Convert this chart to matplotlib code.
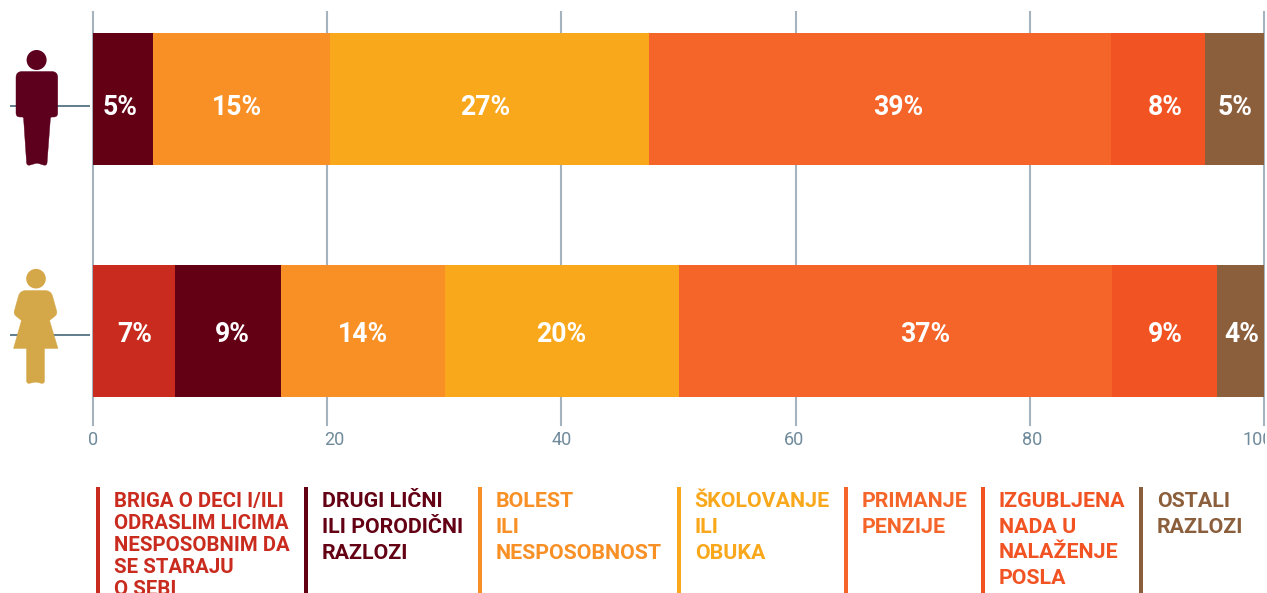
import matplotlib
matplotlib.use("Agg")
import matplotlib.pyplot as plt
import numpy as np
from matplotlib.patches import Circle, PathPatch, Rectangle
from matplotlib.path import Path
from matplotlib.transforms import Bbox, ScaledTranslation

plt.rcParams['font.family'] = ['Roboto', 'DejaVu Sans']

W, H = 1267, 593
groups = ['Muškarci', 'Žene']
legend_labels = [
    "BRIGA O DECI I/ILI\nODRASLIM LICIMA\nNESPOSOBNIM DA\nSE STARAJU\nO SEBI",
    "DRUGI LIČNI\nILI PORODIČNI\nRAZLOZI",
    "BOLEST\nILI\nNESPOSOBNOST",
    "ŠKOLOVANJE\nILI\nOBUKA",
    "PRIMANJE\nPENZIJE",
    "IZGUBLJENA\nNADA U\nNALAŽENJE\nPOSLA",
    "OSTALI\nRAZLOZI",
]
colors = ['#C92C1E', '#640014', '#F89026', '#F9A81C', '#F56529', '#F15323', '#8B5E3C']

men_widths = [0, 5.15, 15.1, 27.2, 39.45, 8.05, 5.05]
women_widths = [7, 9.05, 14, 20, 36.95, 9, 4]
men_labels = ['', '5%', '15%', '27%', '39%', '8%', '5%']
women_labels = ['7%', '9%', '14%', '20%', '37%', '9%', '4%']
# nudges of the value labels, in pixels
men_nudge = [0, -3, -5, -4, 19, 7, 1]
women_nudge = [1, 4, 0, -1, 30, 1, 1]
row_nudge = [-5.3, -0.5]
ticks = [0, 20, 40, 60, 80, 100]
tick_nudge = [0, 7.5, 0, -1.5, 2, -6]

legend_x = [96, 304, 478, 677, 844, 981, 1139]
legend_spacing = [22, 26, 26, 26, 26, 25.7, 26]
legend_size = [14.7, 15.4, 15.4, 15.4, 15.4, 15.4, 15.4]


def rounded(points):
    """Closed outline from (x, y, corner radius) vertices."""
    pts = np.array([p[:2] for p in points], float)
    verts, codes = [], []
    n = len(pts)
    for i in range(n):
        p, prev, nxt = pts[i], pts[i - 1], pts[(i + 1) % n]
        r = points[i][2]
        a = p + (prev - p) / np.linalg.norm(prev - p) * r
        b = p + (nxt - p) / np.linalg.norm(nxt - p) * r
        verts.append(a)
        codes.append(Path.MOVETO if i == 0 else Path.LINETO)
        verts += [p, b]
        codes += [Path.CURVE3, Path.CURVE3]
    verts.append(verts[0])
    codes.append(Path.CLOSEPOLY)
    return Path(verts, codes)


fig = plt.figure(figsize=(W / 100, H / 100), dpi=100)
ax = fig.add_axes([93 / W, 1 - 425 / H, (1264 - 93) / W, (425 - 12) / H])
ax.set_xlim(0, 100)
ax.set_ylim(1.405, -0.375)
for s in ax.spines.values():
    s.set_visible(False)
ax.set_yticks([])
ax.set_xticks(ticks)
ax.tick_params(axis='x', length=0, pad=4.5, labelsize=13, labelcolor='#6F8A9B')
ax.xaxis.grid(True, color='#A5B3BE', lw=1.5, zorder=0, clip_on=False)
ax.set_axisbelow(True)
for lab, n in zip(ax.get_xticklabels(), tick_nudge):
    lab.set_transform(lab.get_transform() + ScaledTranslation(n / 100, 0, fig.dpi_scale_trans))
    lab.set_clip_box(Bbox([[0, 0], [1265, H]]))
    lab.set_clip_on(True)

for row, (vals, labs, nudges) in enumerate([(men_widths, men_labels, men_nudge),
                                            (women_widths, women_labels, women_nudge)]):
    left = 0
    for v, lab, n, c in zip(vals, labs, nudges, colors):
        if v:
            ax.barh(row, v, left=left, height=132 / 232, color=c, linewidth=0, zorder=3)
            ax.annotate(lab, (left + v / 2, row), xytext=(n * 0.72, row_nudge[row] * 0.72),
                        textcoords='offset points', ha='center', va='center_baseline',
                        color='white', fontsize=19.2, fontweight='bold', zorder=4)
        left += v

# pixel-space overlay for icons, stubs and the legend
ov = fig.add_axes([0, 0, 1, 1], facecolor='none')
ov.set_xlim(0, W)
ov.set_ylim(H, 0)
ov.axis('off')

ov.plot([10, 90], [106, 106], color='#607D8B', lw=1.4, zorder=1, solid_capstyle='butt')
ov.plot([10, 90], [334.7, 334.7], color='#607D8B', lw=1.4, zorder=1, solid_capstyle='butt')

man = '#5C001E'
ov.add_patch(Circle((36.6, 60), 10, color=man, lw=0, zorder=2))
man_pts = [(16, 71.5, 6), (57.7, 71.5, 6), (57.7, 117, 4), (50.5, 117, 1.5),
           (46.8, 166, 3.5), (37, 163, 1.5), (26.8, 166, 3.5), (23.5, 117, 1.5),
           (16, 117, 4)]
ov.add_patch(PathPatch(rounded(man_pts), facecolor=man, edgecolor=man, lw=0.3, zorder=2))

wom = '#D4A848'
ov.add_patch(Circle((36, 278.7), 9.8, color=wom, lw=0, zorder=2))
wom_pts = [(20, 290.5, 6), (51, 290.5, 6), (57.5, 314, 3), (49.5, 320.5, 1), (58, 348.5, 0.5),
           (44.5, 348.5, 0.5), (44.5, 384, 3.5), (35.5, 382, 1), (26.5, 384, 3.5), (26.5, 348.5, 0.5),
           (13.5, 348.5, 0.5), (21.5, 320.5, 1), (13.5, 314, 3)]
ov.add_patch(PathPatch(rounded(wom_pts), facecolor=wom, edgecolor=wom, lw=0.3, zorder=2))

for x, lab, c, sp, fs in zip(legend_x, legend_labels, colors, legend_spacing, legend_size):
    ov.add_patch(Rectangle((x, 487), 4, H - 487, facecolor=c, lw=0, clip_on=True))
    for i, line in enumerate(lab.split('\n')):
        ov.text(x + 17.7, 499.5 + i * sp, line, color=c, fontsize=fs, fontweight='bold',
                ha='left', va='center_baseline', clip_on=True)

fig.savefig('out.png', dpi=100)
